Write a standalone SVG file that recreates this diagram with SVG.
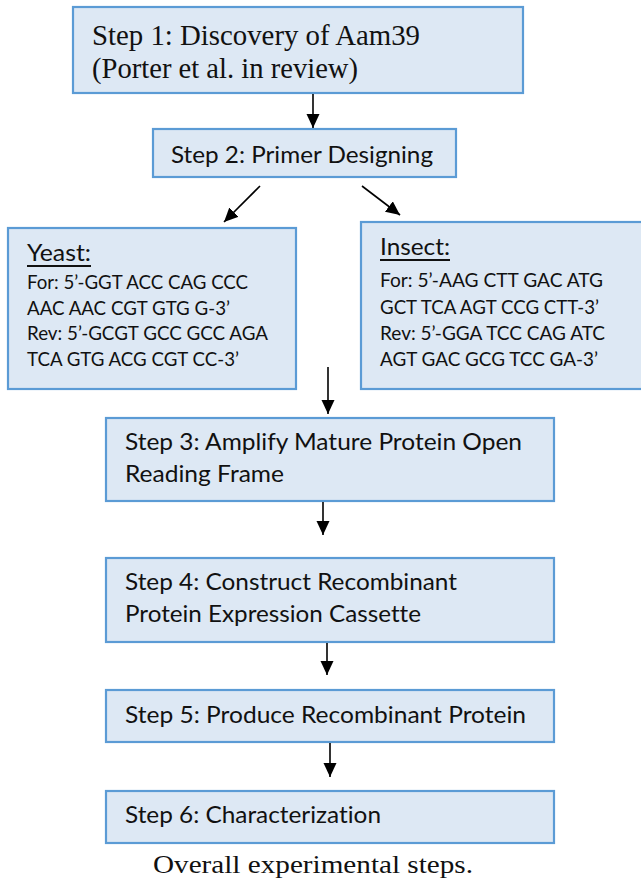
<svg xmlns="http://www.w3.org/2000/svg" width="641" height="881" viewBox="0 0 641 881">
<style>
.box{fill:#dde8f4;stroke:#5b9bd5;stroke-width:2.2}
.serif{font-family:"Liberation Serif","Times New Roman",serif;fill:#111}
.sans{font-family:Lato,"Open Sans",sans-serif;fill:#111;font-variant-ligatures:none}
.step{font-size:23px}
.pr{font-size:20px}
.hd{font-size:24px}
.conn line{stroke:#000;stroke-width:1.6;marker-end:url(#ah)}
</style>
<defs>
<marker id="ah" markerUnits="userSpaceOnUse" markerWidth="15" markerHeight="14" refX="14" refY="6.5" orient="auto">
<path d="M0,0 L14,6.5 L0,13 z" fill="#000"/>
</marker>
</defs>
<rect width="641" height="881" fill="#fff"/>
<g id="step1">
<rect class="box" x="73" y="7" width="450" height="86"/>
<text class="serif" x="92" y="45" font-size="28.5" textLength="328" lengthAdjust="spacingAndGlyphs">Step 1: Discovery of Aam39</text>
<text class="serif" x="92" y="78" font-size="28.5" textLength="266" lengthAdjust="spacingAndGlyphs">(Porter et al. in review)</text>
</g>
<g id="step2">
<rect class="box" x="153" y="129" width="303" height="48"/>
<text class="sans step" x="171" y="163" textLength="262" lengthAdjust="spacingAndGlyphs">Step 2: Primer Designing</text>
</g>
<g id="yeast">
<rect class="box" x="8" y="228" width="288" height="161"/>
<text class="sans hd" x="27" y="261" textLength="64" lengthAdjust="spacingAndGlyphs">Yeast:</text>
<rect x="27" y="265" width="64" height="2" fill="#111"/>
<text class="sans pr" x="27" y="289" textLength="221" lengthAdjust="spacingAndGlyphs">For: 5’-GGT ACC CAG CCC</text>
<text class="sans pr" x="27" y="315" textLength="203" lengthAdjust="spacingAndGlyphs">AAC AAC CGT GTG G-3’</text>
<text class="sans pr" x="27" y="340" textLength="241" lengthAdjust="spacingAndGlyphs">Rev: 5’-GCGT GCC GCC AGA</text>
<text class="sans pr" x="27" y="366" textLength="212" lengthAdjust="spacingAndGlyphs">TCA GTG ACG CGT CC-3’</text>
</g>
<g id="insect">
<rect class="box" x="361" y="222" width="290" height="167"/>
<text class="sans hd" x="380" y="255" textLength="70" lengthAdjust="spacingAndGlyphs">Insect:</text>
<rect x="380" y="259" width="70" height="2" fill="#111"/>
<text class="sans pr" x="380" y="287" textLength="223" lengthAdjust="spacingAndGlyphs">For: 5’-AAG CTT GAC ATG</text>
<text class="sans pr" x="380" y="314" textLength="219" lengthAdjust="spacingAndGlyphs">GCT TCA AGT CCG CTT-3’</text>
<text class="sans pr" x="380" y="340" textLength="225" lengthAdjust="spacingAndGlyphs">Rev: 5’-GGA TCC CAG ATC</text>
<text class="sans pr" x="380" y="366" textLength="218" lengthAdjust="spacingAndGlyphs">AGT GAC GCG TCC GA-3’</text>
</g>
<g id="step3">
<rect class="box" x="106" y="418" width="448" height="83"/>
<text class="sans step" x="125" y="450" textLength="397" lengthAdjust="spacingAndGlyphs">Step 3: Amplify Mature Protein Open</text>
<text class="sans step" x="125" y="482" textLength="159" lengthAdjust="spacingAndGlyphs">Reading Frame</text>
</g>
<g id="step4">
<rect class="box" x="106" y="558" width="448" height="84"/>
<text class="sans step" x="125" y="590" textLength="332" lengthAdjust="spacingAndGlyphs">Step 4: Construct Recombinant</text>
<text class="sans step" x="125" y="622" textLength="296" lengthAdjust="spacingAndGlyphs">Protein Expression Cassette</text>
</g>
<g id="step5">
<rect class="box" x="106" y="690" width="448" height="52"/>
<text class="sans step" x="125" y="723" textLength="401" lengthAdjust="spacingAndGlyphs">Step 5: Produce Recombinant Protein</text>
</g>
<g id="step6">
<rect class="box" x="106" y="791" width="448" height="52"/>
<text class="sans step" x="125" y="823" textLength="256" lengthAdjust="spacingAndGlyphs">Step 6: Characterization</text>
</g>
<g id="connectors" class="conn">
<line x1="313" y1="94" x2="313" y2="128"/>
<line x1="260" y1="186" x2="224" y2="222"/>
<line x1="362" y1="186" x2="400" y2="215"/>
<line x1="328" y1="367" x2="328" y2="414"/>
<line x1="323" y1="502" x2="323" y2="535"/>
<line x1="327" y1="643" x2="327" y2="675"/>
<line x1="330" y1="743" x2="330" y2="777"/>
</g>
<text id="caption" class="serif" x="153" y="873" font-size="25" textLength="320" lengthAdjust="spacingAndGlyphs">Overall experimental steps.</text>
</svg>
